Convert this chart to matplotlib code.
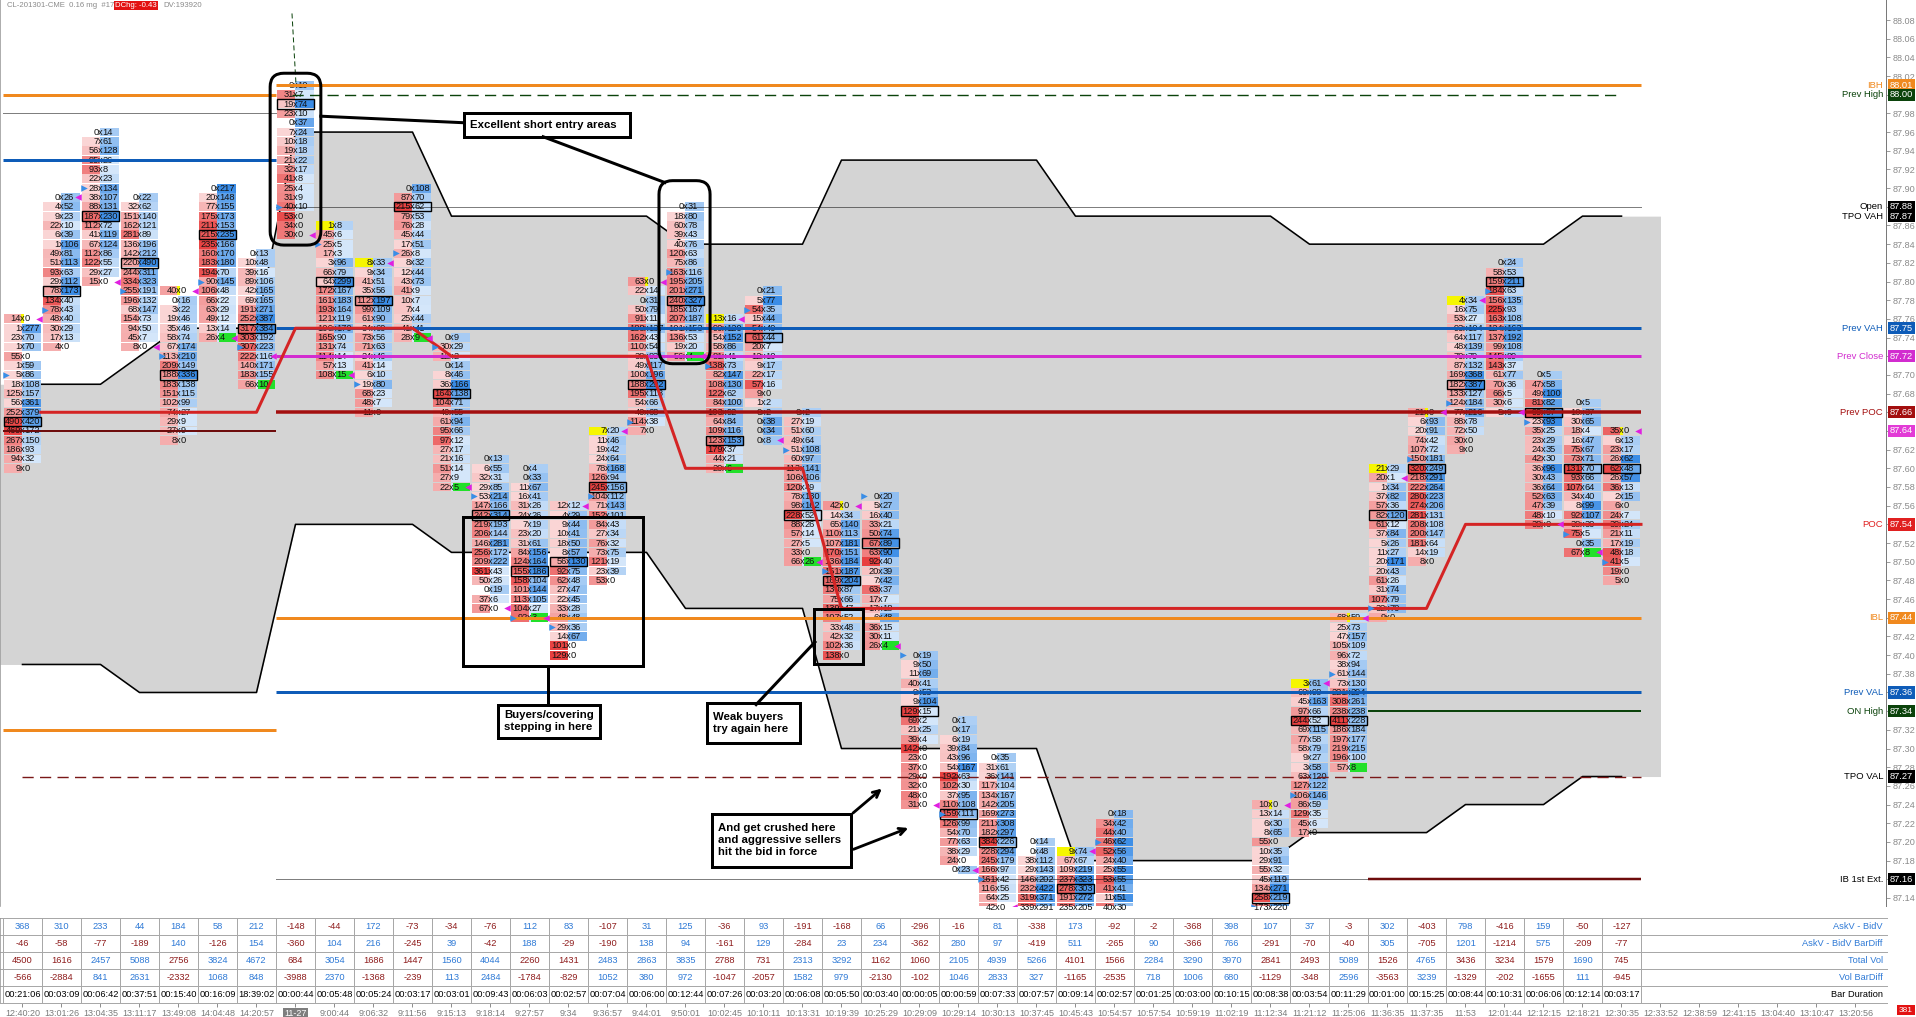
import matplotlib

matplotlib.use("Agg")
import matplotlib.pyplot as plt
import numpy as np
from matplotlib.patches import Rectangle, FancyBboxPatch
from matplotlib.colors import to_rgb
from matplotlib.transforms import blended_transform_factory

plt.rcParams['font.family'] = ['Liberation Sans Narrow', 'Liberation Sans', 'DejaVu Sans']

# ---------------- data ----------------
time_labels = ['12:40:20', '13:01:26', '13:04:35', '13:11:17', '13:49:08', '14:04:48', '14:20:57',
               '11-27', '9:00:44', '9:06:32', '9:11:56', '9:15:13', '9:18:14', '9:27:57', '9:34',
               '9:36:57', '9:44:01', '9:50:01', '10:02:45', '10:10:11', '10:13:31', '10:19:39',
               '10:25:29', '10:29:09', '10:29:14', '10:30:13', '10:37:45', '10:45:43', '10:54:57',
               '10:57:54', '10:59:19', '11:02:19', '11:12:34', '11:21:12', '11:25:06', '11:36:35',
               '11:37:35', '11:53', '12:01:44', '12:12:15', '12:18:21', '12:30:35', '12:33:52',
               '12:38:59', '12:41:15', '13:04:40', '13:10:47', '13:20:56']

# top price of each footprint bar (None = bar is below the visible range)
col_top = [87.76, 87.89, 87.96, 87.89, 87.79, 87.90, 87.83, 88.01, 87.86, 87.82, 87.90,
           87.74, 87.61, 87.60, 87.56, 87.64, 87.80, 87.88, 87.76, 87.79, 87.66, 87.56,
           87.57, 87.40, 87.33, 87.29, 87.20, 87.19, 87.23, None, None, None, 87.24, 87.37,
           87.44, 87.60, 87.66, 87.78, 87.82, 87.70, 87.67, 87.64]

# bid x ask per price level, top to bottom
col_cells = [
    "14x0 1x277 23x70 1x70 55x0 1x59 5x86 18x108 125x157 56x361 252x379 490x420 469x172 267x150 186x93 94x32 9x0",
    "0x26 4x52 9x23 22x10 6x39 1x106 49x81 51x113 93x63 29x112 78x173 134x40 78x43 48x40 30x29 17x13 4x0",
    "0x14 7x61 56x128 95x26 93x8 22x23 28x134 38x107 88x131 187x230 112x72 41x119 67x124 112x86 122x55 29x27 15x0",
    "0x22 32x62 151x140 162x121 281x89 136x196 142x212 220x490 244x311 334x323 255x191 196x132 68x147 154x73 94x50 45x7 8x0",
    "40x0 0x16 3x22 19x46 35x46 58x74 67x174 113x210 209x149 188x336 183x138 151x115 102x99 74x27 29x9 27x9 8x0",
    "0x217 20x148 77x155 175x173 211x153 215x235 235x166 160x170 183x180 194x70 90x145 106x48 66x22 63x29 49x12 13x14 26x4",
    "0x13 10x48 39x16 89x106 42x165 69x165 191x271 252x387 317x384 303x192 307x223 222x116 140x171 183x155 66x10",
    "0x10 31x7 19x74 23x10 0x37 7x24 10x18 19x18 21x22 32x17 41x8 25x4 31x9 40x10 53x0 34x0 30x0",
    "1x8 45x6 25x5 17x3 3x96 66x79 64x299 172x167 161x183 193x164 121x119 106x170 165x90 131x74 114x14 57x13 108x15",
    "8x33 9x34 41x51 35x56 112x197 99x109 61x90 34x60 73x56 71x63 24x46 41x14 6x10 19x80 68x23 48x7 11x0",
    "0x108 87x70 215x62 79x53 76x28 45x44 17x51 26x8 8x32 12x44 43x73 41x9 10x7 7x4 25x44 41x41 28x9",
    "0x9 30x29 12x2 0x14 8x46 36x166 164x138 104x71 40x55 61x94 95x66 97x12 27x17 21x16 51x14 27x9 22x5",
    "0x13 6x55 32x31 29x85 53x214 147x166 242x314 219x193 206x144 146x281 256x172 209x222 361x43 50x26 0x19 37x6 67x0",
    "0x4 0x33 11x67 16x41 31x26 24x26 7x19 23x20 31x61 84x156 124x164 155x186 158x104 101x144 113x105 104x27 92x3",
    "12x12 4x29 9x44 10x41 18x50 8x57 56x130 92x75 62x48 27x47 22x45 33x28 48x48 29x36 14x67 101x0 129x0",
    "7x20 11x46 19x42 24x64 78x168 126x94 245x156 104x112 71x143 152x101 84x43 27x34 76x32 73x75 121x19 23x39 53x0",
    "63x0 22x14 0x31 50x79 91x11 188x137 162x43 110x54 38x83 49x117 100x196 188x292 195x118 54x66 40x68 114x38 7x0",
    "0x31 18x80 60x78 39x43 40x76 120x63 75x86 163x116 195x205 201x271 240x327 185x167 207x187 101x153 136x53 19x20 56x4",
    "13x16 90x120 54x152 58x86 81x41 138x73 82x147 108x130 122x62 84x100 103x92 64x84 109x116 123x153 179x37 44x21 20x6",
    "0x21 5x77 54x35 15x44 54x40 61x44 20x7 12x10 9x17 22x17 57x16 9x0 1x2 0x2 0x38 0x34 0x8",
    "0x2 27x19 51x60 49x64 51x108 60x97 113x141 106x106 120x49 78x130 98x162 228x52 88x26 57x14 27x5 33x0 66x26",
    "42x0 14x34 65x140 110x113 107x181 170x151 136x184 151x187 169x204 130x87 75x66 139x47 107x52 33x48 42x32 102x36 138x0",
    "0x20 5x27 16x40 33x21 50x74 67x89 63x90 92x40 20x39 7x42 63x37 17x7 17x18 6x48 36x15 30x11 26x4",
    "0x19 9x50 11x69 40x41 9x53 9x104 129x15 69x2 21x25 39x4 142x0 23x0 37x0 29x0 32x0 48x0 31x0",
    "0x1 0x17 6x19 39x84 43x96 54x167 192x63 102x30 37x95 110x108 159x111 126x99 54x70 77x63 38x29 24x0 0x23",
    "0x35 31x61 36x141 117x104 134x167 142x205 169x273 211x308 182x297 384x226 228x294 245x179 166x97 161x42 116x56 64x25 42x0",
    "0x14 0x48 38x112 29x143 146x202 232x422 319x371 339x291",
    "9x74 67x67 109x219 237x323 278x303 191x272 235x205",
    "0x18 34x42 44x40 46x62 52x56 24x40 25x55 53x55 41x41 11x51 40x30",
    "", "", "",
    "10x0 13x14 6x30 8x65 55x0 10x35 29x91 55x32 45x119 134x271 258x219 173x220",
    "3x61 60x98 45x163 97x66 244x52 69x115 77x58 58x79 9x27 3x58 63x120 127x122 106x146 86x59 129x35 45x6 17x0",
    "68x59 25x73 47x157 105x109 96x72 38x94 61x144 73x130 221x294 308x261 238x238 411x228 186x184 197x177 219x215 196x100 57x8",
    "21x29 20x1 1x34 37x82 57x36 82x120 61x12 37x84 5x26 11x27 20x171 20x43 61x26 31x74 107x79 32x70 9x0",
    "21x0 6x93 20x91 74x42 107x72 150x181 320x249 218x291 222x264 280x223 274x206 281x131 208x108 200x147 181x64 14x19 8x0",
    "4x34 16x75 53x27 93x104 64x117 48x139 70x79 87x132 169x368 182x387 133x127 124x184 77x216 88x78 72x50 30x0 9x0",
    "0x24 58x53 159x211 184x63 156x135 225x93 163x108 124x163 137x192 99x108 145x89 143x37 61x77 70x36 66x5 30x6 5x9",
    "0x5 47x58 49x100 81x82 99x97 23x93 35x25 23x29 24x35 42x30 36x96 30x43 36x64 52x63 47x39 48x10 38x0",
    "0x5 10x37 30x65 18x4 16x47 75x67 73x71 131x70 93x66 107x64 34x40 8x99 92x107 38x30 75x5 0x35 67x8",
    "35x0 6x13 23x17 26x62 62x48 26x57 36x13 2x15 6x0 24x7 39x24 21x11 17x19 48x18 41x5 19x0 5x0",
]

# boxed (bar POC) row, open marker row, close marker row (-1 = not visible)
poc_idx = [11, 10, 9, 7, 9, 5, 8, 2, 6, 4, 2, 6, 6, 11, 6, 6, 11, 10, 13, 5, 11, 8, 5, 6, 10, 9,
           -1, 4, -1, -1, -1, -1, 10, 4, 11, 5, 6, 9, 2, 4, 7, 4]
open_idx = [6, 12, 6, 10, 7, 10, 10, 13, 2, 13, 7, 1, 4, 16, 13, 7, 15, 7, 5, 2, 4, 7, 0, 0, 10, 13,
            -1, -1, 3, -1, -1, -1, 11, 12, 6, 15, 5, 11, 3, 5, 14, 14]
close_idx = [0, 0, 16, 16, 0, 16, 11, 16, 16, 0, 16, 16, 16, 16, 0, 0, 0, 16, 0, 16, 16, 0, 16, 16,
             16, 16, -1, 0, -1, -1, -1, -1, 0, 0, 0, 1, 0, 0, 16, 16, 16, 0]
yellow_open_cols = [8, 9, 15, 18, 27, 33, 35, 37]
yellow_mark_cols = [0, 4, 16, 21, 32, 34, 36, 41]
green_close_cols = [5, 6, 8, 10, 11, 13, 17, 18, 20, 22, 34, 40]

# developing value area / POC per bar
dev_vah = [87.69, 87.69, 87.69, 87.72, 87.75, 87.75, 87.75,
           87.96, 87.96, 87.96, 87.96,
           87.87, 87.87, 87.87, 87.87, 87.87, 87.87,
           87.84, 87.84, 87.84, 87.84,
           87.93, 87.93, 87.93, 87.93, 87.93, 87.93,
           87.87, 87.87, 87.87, 87.87, 87.87, 87.87,
           87.84, 87.84, 87.84, 87.84, 87.84, 87.84, 87.84,
           87.87, 87.87]
dev_val = [87.39, 87.39, 87.39, 87.36, 87.36, 87.36, 87.36,
           87.54, 87.54, 87.54, 87.54,
           87.51, 87.51, 87.51, 87.51, 87.51, 87.51,
           87.45, 87.45, 87.45, 87.45,
           87.30, 87.30, 87.30, 87.30, 87.30, 87.30,
           87.18, 87.18, 87.18, 87.18, 87.18, 87.18,
           87.21, 87.21, 87.21, 87.21,
           87.24, 87.24, 87.24,
           87.27, 87.27]
dev_poc = [87.66] * 7 + [87.75] * 4 + [87.72] * 6 + [87.60] * 4 + [87.45] * 16 + [87.54] * 5

# bottom table
askv_bidv = [368, 310, 233, 44, 184, 58, 212, -148, -44, 172, -73, -34, -76, 112, 83, -107, 31,
             125, -36, 93, -191, -168, 66, -296, -16, 81, -338, 173, -92, -2, -368, 398, 107, 37,
             -3, 302, -403, 798, -416, 159, -50, -127]
askv_bidv_diff = [-46, -58, -77, -189, 140, -126, 154, -360, 104, 216, -245, 39, -42, 188, -29,
                  -190, 138, 94, -161, 129, -284, 23, 234, -362, 280, 97, -419, 511, -265, 90,
                  -366, 766, -291, -70, -40, 305, -705, 1201, -1214, 575, -209, -77]
total_vol = [4500, 1616, 2457, 5088, 2756, 3824, 4672, 684, 3054, 1686, 1447, 1560, 4044, 2260,
             1431, 2483, 2863, 3835, 2788, 731, 2313, 3292, 1162, 1060, 2105, 4939, 5266, 4101,
             1566, 2284, 3290, 3970, 2841, 2493, 5089, 1526, 4765, 3436, 3234, 1579, 1690, 745]
vol_diff = [-566, -2884, 841, 2631, -2332, 1068, 848, -3988, 2370, -1368, -239, 113, 2484, -1784,
            -829, 1052, 380, 972, -1047, -2057, 1582, 979, -2130, -102, 1046, 2833, 327, -1165,
            -2535, 718, 1006, 680, -1129, -348, 2596, -3563, 3239, -1329, -202, -1655, 111, -945]
bar_duration = ['00:21:06', '00:03:09', '00:06:42', '00:37:51', '00:15:40', '00:16:09', '18:39:02',
                '00:00:44', '00:05:48', '00:05:24', '00:03:17', '00:03:01', '00:09:43', '00:06:03',
                '00:02:57', '00:07:04', '00:06:00', '00:12:44', '00:07:26', '00:03:20', '00:06:08',
                '00:05:50', '00:03:40', '00:00:05', '00:00:59', '00:07:33', '00:07:57', '00:09:14',
                '00:02:57', '00:01:25', '00:03:00', '00:10:15', '00:08:38', '00:03:54', '00:11:29',
                '00:01:00', '00:15:25', '00:08:44', '00:10:31', '00:06:06', '00:12:14', '00:03:17']
row_labels = ['AskV - BidV', 'AskV - BidV BarDiff', 'Total Vol', 'Vol BarDiff', 'Bar Duration']

# price levels on the right axis
level_names = ['IBH', 'Prev High', 'Open', 'TPO VAH', 'Prev VAH', 'Prev Close', 'Prev POC', '',
               'POC', 'IBL', 'Prev VAL', 'ON High', 'TPO VAL', 'IB 1st Ext.']
level_prices = [88.01, 88.00, 87.88, 87.87, 87.75, 87.72, 87.66, 87.64, 87.54, 87.44, 87.36,
                87.34, 87.27, 87.16]

# ---------------- styling ----------------
ORANGE = '#F0891E'
DKGREEN = '#0B430B'
BLUE = '#0E5CB8'
MAGENTA = '#D22CCF'
PREVPOC = '#A30F0F'
DEVPOC = '#D42424'
MAROON = '#6E0C0C'
GREY_FILL = '#D4D4D4'
POS_T = '#2F7AD6'
NEG_T = '#8E1C1C'

level_colors = [ORANGE, DKGREEN, 'black', 'black', BLUE, MAGENTA, PREVPOC, '#E23BD6', '#E02020',
                ORANGE, BLUE, DKGREEN, 'black', 'black']

# horizontal reference lines: price, start bar, end bar, colour, width(px), style
line_prices = [88.01, 88.00, 88.00, 87.98, 87.93, 87.88, 87.75, 87.72, 87.66, 87.64, 87.44,
               87.36, 87.34, 87.32, 87.27, 87.16, 87.16]
line_x0 = [6.5, 6.9, -0.5, -0.5, -0.5, 6.5, 6.5, 6.5, 6.5, -0.5, 6.5, 6.5, 34.5, -0.5, 0.0, 6.5, 34.5]
line_x1 = [41.5, 41.0, 6.5, 6.5, 6.5, 41.5, 41.5, 41.5, 41.5, 6.5, 41.5, 41.5, 41.5, 6.5, 41.5, 34.5, 41.5]
line_col = [ORANGE, DKGREEN, ORANGE, 'black', BLUE, 'black', BLUE, MAGENTA, PREVPOC, MAROON,
            ORANGE, BLUE, DKGREEN, ORANGE, '#7A1818', 'black', MAROON]
line_px = [3, 1.4, 3, 1, 3, 1, 3, 3, 3.5, 2, 3, 3, 2, 3, 1.4, 1, 2.5]
line_ls = ['-', 'dash', '-', 'dot', '-', 'dot', '-', '-', '-', '-', '-', '-', '-', '-', 'dash', 'dot', '-']

W, H = 1916, 1017
PT = 72 / 100  # points per pixel at dpi 100
HALF = 0.475   # half cell width in bar units
RED_BASE = to_rgb('#E84040')
BLUE_BASE = to_rgb('#3A8CE6')
CELL_FS = 6.7


def shade(base, v, other, vmax):
    t = 0.35 * v / (v + other) + 0.65 * v / vmax
    f = 0.22 + 0.78 * np.clip((t - 0.15) / 0.72, 0, 1) ** 1.1
    return tuple(1 - f * (1 - c) for c in base)


fig = plt.figure(figsize=(W / 100, H / 100), dpi=100)
ax = fig.add_axes([0, 1 - 906 / H, 1886 / W, 906 / H])
ax.set_xlim(-22.5 / 39, (1886 - 22.5) / 39)
ax.set_ylim(88.08 - 886 / 934, 88.08 + 20 / 934)

# value area band
bars = np.arange(len(dev_vah))
xf = np.concatenate([[-0.58], bars, [42.0]])
ax.fill_between(xf, np.r_[dev_val[0], dev_val, dev_val[-1]], np.r_[dev_vah[0], dev_vah, dev_vah[-1]],
                color=GREY_FILL, lw=0, zorder=1)
ax.plot(bars, dev_vah, color='black', lw=1.6 * PT, zorder=2)
ax.plot(bars, dev_val, color='black', lw=1.6 * PT, zorder=2)

# footprint cells
for i, (top, cells) in enumerate(zip(col_top, col_cells)):
    if top is None or not cells:
        continue
    rows = [tuple(int(v) for v in tok.split('x')) for tok in cells.split()]
    vmax = max(max(b, a) for b, a in rows)
    for k, (b, a) in enumerate(rows):
        p = top - 0.01 * k
        y0 = p - 0.0047
        if b > 0:
            ax.add_patch(Rectangle((i - HALF, y0), HALF, 0.0094, fc=shade(RED_BASE, b, a, vmax),
                                   ec='none', zorder=3))
        if a > 0:
            ax.add_patch(Rectangle((i, y0), HALF, 0.0094, fc=shade(BLUE_BASE, a, b, vmax),
                                   ec='none', zorder=3))
        if k == 0 and i in yellow_open_cols:
            ax.add_patch(Rectangle((i - HALF, y0), HALF * 0.95, 0.0094, fc='#F6F600', ec='none', zorder=3.2))
        if k == 0 and i in yellow_mark_cols:
            ax.add_patch(Rectangle((i - 0.05, y0), 0.1, 0.0094, fc='#F6F600', ec='none', zorder=3.2))
        if k == len(rows) - 1 and i in green_close_cols:
            ax.add_patch(Rectangle((i + 0.03, y0), HALF - 0.03, 0.0094, fc='#22E02A', ec='none', zorder=3.2))
        if k == poc_idx[i]:
            ax.add_patch(Rectangle((i - HALF, p - 0.005), 2 * HALF, 0.01, fill=False, ec='black',
                                   lw=1.4 * PT, zorder=5.5))
        ax.text(i - 0.045, p, str(b), ha='right', va='center', fontsize=CELL_FS, color='#111111', zorder=5)
        ax.text(i, p, 'x', ha='center', va='center', fontsize=CELL_FS, color='#111111', zorder=5)
        ax.text(i + 0.045, p, str(a), ha='left', va='center', fontsize=CELL_FS, color='#111111', zorder=5)
    if open_idx[i] >= 0:
        ax.scatter([i - 0.42], [top - 0.01 * open_idx[i]], marker='>', s=22, c='#3A8EE6',
                   linewidths=0, zorder=7)
    if close_idx[i] >= 0:
        ax.scatter([i + 0.43], [top - 0.01 * close_idx[i]], marker='<', s=22, c='#E020E0',
                   linewidths=0, zorder=7)

# reference lines
for p, x0, x1, c, w, ls in zip(line_prices, line_x0, line_x1, line_col, line_px, line_ls):
    if ls == 'dash':
        ax.plot([x0, x1], [p, p], color=c, lw=w * PT, dashes=(8, 4.5), zorder=6)
    elif ls == 'dot':
        ax.plot([x0, x1], [p, p], color=c, lw=w * PT, dashes=(1, 1), zorder=6)
    else:
        ax.plot([x0, x1], [p, p], color=c, lw=w * PT, solid_capstyle='butt', zorder=6)

# developing POC
xp = np.r_[0.47, bars[1:], 41.5]
ax.plot(xp, np.r_[dev_poc, dev_poc[-1]], color=DEVPOC, lw=3 * PT, zorder=6.2)

# vertical dash from the prior high
ax.plot([6.91, 7.01], [88.087, 88.013], color=DKGREEN, lw=1 * PT, dashes=(5, 3), zorder=6)

# ---------------- annotations ----------------
for (x0, y0, x1, y1) in [(6.35, 87.839, 7.65, 88.023), (16.32, 87.712, 17.63, 87.908)]:
    ax.add_patch(FancyBboxPatch((x0, y0), x1 - x0, y1 - y0,
                                boxstyle="round,pad=0,rounding_size=0.35",
                                mutation_aspect=39 / 934, fill=False, ec='black', lw=3 * PT, zorder=8))
for (x0, y0, x1, y1) in [(11.29, 87.388, 15.91, 87.548), (20.29, 87.390, 21.55, 87.449)]:
    ax.add_patch(Rectangle((x0, y0), x1 - x0, y1 - y0, fill=False, ec='black', lw=3 * PT, zorder=8))

label_boxes = [
    (11.32, 87.9547, 15.58, 87.9804, 'Excellent short entry areas'),
    (12.19, 87.3113, 14.81, 87.3466, 'Buyers/covering\nstepping in here'),
    (17.55, 87.3059, 19.94, 87.3488, 'Weak buyers\ntry again here'),
    (17.68, 87.1732, 21.24, 87.2299, 'And get crushed here\nand aggressive sellers\nhit the bid in force'),
]
for x0, y0, x1, y1, txt in label_boxes:
    ax.add_patch(Rectangle((x0, y0), x1 - x0, y1 - y0, fc='white', ec='black', lw=3 * PT, zorder=8))
    ax.text(x0 + 0.15, (y0 + y1) / 2, txt, ha='left', va='center', fontsize=8.2, fontweight='bold',
            linespacing=1.25, color='black', zorder=9)

for (xa, ya, xb, yb) in [(7.65, 87.977, 11.32, 87.970), (13.35, 87.955, 16.47, 87.906),
                         (13.47, 87.388, 13.47, 87.347), (20.32, 87.414, 18.81, 87.347)]:
    ax.plot([xa, xb], [ya, yb], color='black', lw=3 * PT, zorder=8)
for (xa, ya, xb, yb) in [(21.24, 87.229, 22.09, 87.259), (21.24, 87.191, 22.78, 87.216)]:
    ax.annotate('', xy=(xb, yb), xytext=(xa, ya),
                arrowprops=dict(arrowstyle='->', lw=2.8 * PT, color='black', mutation_scale=12),
                zorder=8)

# ---------------- price axis ----------------
for s in ['top', 'bottom']:
    ax.spines[s].set_visible(False)
ax.spines['left'].set_color('#9A9A9A')
ax.spines['left'].set_linewidth(1.6 * PT)
ax.spines['right'].set_color('#7A7A7A')
ax.spines['right'].set_linewidth(1 * PT)
ax.set_xticks([])
ticks = [round(88.08 - 0.02 * k, 2) for k in range(48)]
ax.yaxis.tick_right()
ax.set_yticks(ticks)
ax.set_yticklabels([f"{t:.2f}" for t in ticks])
ax.tick_params(axis='y', length=3, pad=2, labelsize=6.6, colors='#8A8A8A', width=0.6)

tr = blended_transform_factory(ax.transAxes, ax.transData)
for name, p, c in zip(level_names, level_prices, level_colors):
    ax.text(1 + 4 / 1886, p, f"{p:.2f}", transform=tr, ha='left', va='center', fontsize=6.7,
            color='white', clip_on=False, zorder=10,
            bbox=dict(boxstyle='square,pad=0.18', fc=c, ec='none'))
    if name:
        ax.text(1 - 3 / 1886, p, name, transform=tr, ha='right', va='center', fontsize=6.8,
                color=c, clip_on=False, zorder=10)

# ---------------- bottom table ----------------
tax = fig.add_axes([0, 1 - 1003 / H, 1886 / W, 85 / H])
tax.set_xlim(ax.get_xlim())
tax.set_ylim(5, 0)
for s in tax.spines.values():
    s.set_visible(False)
for r in range(6):
    tax.plot([-0.58, 47.8], [r, r], color='#A8A8A8', lw=1 * PT, clip_on=False)
tax.vlines(np.arange(43) - 0.5, 0, 5, color='#A8A8A8', lw=1 * PT)
tax.vlines([-0.577], 0, 5, color='#9A9A9A', lw=1.6 * PT)

for r, vals in enumerate([askv_bidv, askv_bidv_diff, total_vol, vol_diff]):
    for i, v in enumerate(vals):
        ref = vol_diff[i] if r == 2 else v
        tax.text(i, r + 0.5, str(v), ha='center', va='center', fontsize=6.7,
                 color=POS_T if ref > 0 else NEG_T)
for i, d in enumerate(bar_duration):
    tax.text(i, 4.5, d, ha='center', va='center', fontsize=6.7, color='black')
for r, lab in enumerate(row_labels):
    tax.text(47.7, r + 0.5, lab, ha='right', va='center', fontsize=6.7,
             color='black' if r == 4 else POS_T)

tax.set_yticks([])
tax.set_xticks(range(len(time_labels)))
tax.set_xticklabels(time_labels)
tax.tick_params(axis='x', length=3, pad=1.5, labelsize=6.5, colors='#7A7A7A', width=0.6)
lbl = tax.get_xticklabels()[7]
lbl.set_color('white')
lbl.set_bbox(dict(fc='#7E7E7E', ec='none', pad=1))

# header and corner marker
fig.text(7 / W, 1 - 5.5 / H, 'CL-201301-CME  0.16 mg  #17', fontsize=5.6, color='#8A8A8A', va='center')
fig.text(115 / W, 1 - 5.5 / H, 'DChg: -0.43', fontsize=5.6, color='white', va='center',
         bbox=dict(boxstyle='square,pad=0.12', fc='#E31212', ec='none'))
fig.text(163 / W, 1 - 5.5 / H, 'DV:193920', fontsize=5.6, color='#8A8A8A', va='center')
fig.text(1899 / W, 1 - 1010 / H, '381', fontsize=6, color='white', va='center',
         bbox=dict(boxstyle='square,pad=0.2', fc='#E31212', ec='none'))

fig.savefig('out.png', dpi=100)
